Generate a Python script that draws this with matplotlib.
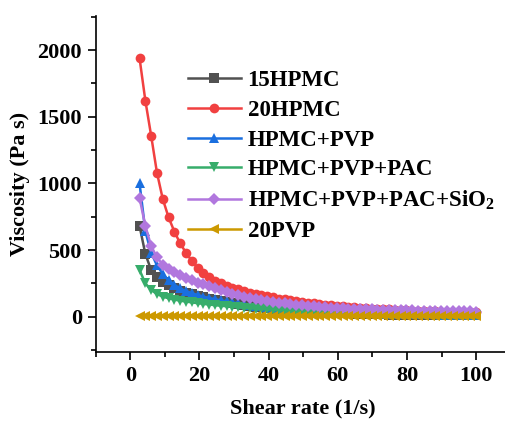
import matplotlib
matplotlib.use("Agg")
import matplotlib.pyplot as plt
from matplotlib.ticker import MultipleLocator

plt.rcParams['font.family'] = ['Liberation Serif', 'DejaVu Serif']
plt.rcParams['font.weight'] = 'bold'
plt.rcParams['mathtext.fontset'] = 'custom'
plt.rcParams['mathtext.rm'] = 'Liberation Serif:bold'
plt.rcParams['mathtext.bf'] = 'Liberation Serif:bold'
plt.rcParams['mathtext.it'] = 'Liberation Serif:bold'
plt.rcParams['mathtext.default'] = 'rm'

shear_rate = [2.68, 4.36, 6.03, 7.71, 9.39, 11.07, 12.75, 14.42, 16.10, 17.78,
              19.46, 21.14, 22.81, 24.49, 26.17, 27.85, 29.53, 31.20, 32.88, 34.56,
              36.24, 37.92, 39.59, 41.27, 42.95, 44.63, 46.31, 47.98, 49.66, 51.34,
              53.02, 54.69, 56.37, 58.05, 59.73, 61.41, 63.08, 64.76, 66.44, 68.12,
              69.80, 71.47, 73.15, 74.83, 76.51, 78.19, 79.86, 81.54, 83.22, 84.90,
              86.58, 88.25, 89.93, 91.61, 93.29, 94.97, 96.64, 98.32, 100.0]

hpmc15 = [680, 470, 350, 300, 263, 235, 212, 195, 180, 167,
          155, 144, 134, 125, 116, 108, 100, 93, 86, 80,
          74, 69, 64, 59, 55, 51, 47, 44, 41, 38,
          35, 33, 31, 29, 27, 25, 24, 22, 21, 20,
          19, 18, 17, 16, 15, 15, 14, 14, 13, 13,
          12, 12, 12, 11, 11, 11, 10, 10, 10]

hpmc20 = [1938, 1620, 1358, 1080, 883, 745, 638, 550, 480, 418,
          368, 325, 295, 270, 250, 232, 217, 204, 192, 181,
          171, 161, 152, 144, 136, 129, 122, 116, 110, 104,
          99, 94, 89, 85, 81, 77, 73, 70, 67, 64,
          61, 58, 56, 54, 52, 50, 48, 46, 44, 43,
          41, 40, 38, 37, 36, 35, 34, 33, 32]

hpmc_pvp = [1000, 640, 480, 385, 320, 272, 238, 212, 192, 176,
            162, 150, 140, 131, 122, 114, 107, 100, 94, 88,
            82, 77, 72, 67, 63, 59, 55, 52, 49, 46,
            43, 41, 38, 36, 34, 32, 30, 29, 27, 26,
            25, 24, 23, 22, 21, 20, 20, 19, 18, 18,
            17, 17, 16, 16, 16, 15, 15, 15, 14]

hpmc_pvp_pac = [350, 250, 200, 170, 150, 138, 128, 120, 113, 107,
                101, 96, 91, 86, 82, 78, 74, 70, 66, 63,
                60, 57, 54, 51, 48, 46, 44, 42, 40, 38,
                36, 34, 33, 31, 30, 29, 27, 26, 25, 24,
                23, 22, 21, 21, 20, 19, 19, 18, 18, 17,
                17, 16, 16, 16, 15, 15, 15, 14, 14]

hpmc_pvp_pac_sio2 = [890, 680, 530, 445, 390, 358, 333, 310, 290, 272,
                     256, 242, 228, 213, 199, 186, 172, 160, 150, 141,
                     133, 125, 118, 111, 105, 99, 94, 89, 85, 81,
                     77, 74, 71, 68, 65, 63, 61, 59, 57, 55,
                     54, 53, 52, 51, 50, 49, 48, 47, 46, 45,
                     44, 43, 42, 41, 41, 40, 39, 39, 38]

pvp20 = [4, 4, 3, 3, 3, 3, 3, 3, 3, 3,
         3, 3, 3, 3, 3, 3, 3, 3, 3, 3,
         2, 2, 2, 2, 2, 2, 2, 2, 2, 2,
         2, 2, 2, 2, 2, 2, 2, 2, 2, 2,
         2, 2, 2, 2, 2, 2, 2, 2, 2, 2,
         2, 2, 2, 2, 2, 2, 2, 2, 2]

labels = ['15HPMC', '20HPMC', 'HPMC+PVP', 'HPMC+PVP+PAC',
          r'HPMC+PVP+PAC+SiO$_2$', '20PVP']
series = [hpmc15, hpmc20, hpmc_pvp, hpmc_pvp_pac, hpmc_pvp_pac_sio2, pvp20]
colors = ['#515151', '#F14040', '#1A6FDF', '#37AD6B', '#B177DE', '#CC9900']
markers = ['s', 'o', '^', 'v', 'D', '<']
msizes = [6.5, 7, 7.5, 7.5, 6.5, 7.5]

W, H = 506, 421
fig = plt.figure(figsize=(W / 100, H / 100), dpi=100)
ax = fig.add_axes([95.7 / W, (H - 352) / H, 415 / W, 336 / H])

for y, lab, c, m, ms in zip(series, labels, colors, markers, msizes):
    ax.plot(shear_rate, y, color=c, marker=m, markersize=ms, linewidth=1.8,
            label=lab, markeredgewidth=0)

ax.set_xlim(-10, 110)
ax.set_ylim(-265, 2255)
ax.xaxis.set_major_locator(MultipleLocator(20))
ax.xaxis.set_minor_locator(MultipleLocator(10))
ax.yaxis.set_major_locator(MultipleLocator(500))
ax.yaxis.set_minor_locator(MultipleLocator(250))
ax.tick_params(axis='both', which='major', direction='out', length=6, width=1.2,
               labelsize=16, pad=4)
ax.tick_params(axis='both', which='minor', direction='out', length=3.5, width=1.2)
for s in ['top', 'right']:
    ax.spines[s].set_visible(False)
for s in ['left', 'bottom']:
    ax.spines[s].set_linewidth(1.2)
for t in ax.get_xticklabels() + ax.get_yticklabels():
    t.set_fontweight('bold')

ax.set_xlabel('Shear rate (1/s)', fontsize=16, fontweight='bold', labelpad=9)
ax.set_ylabel('Viscosity (Pa s)', fontsize=16, fontweight='bold', labelpad=5)

leg = ax.legend(loc='upper left', bbox_to_anchor=(188 / W, 1 - 70 / H),
                bbox_transform=fig.transFigure, frameon=False,
                handlelength=2.3, handletextpad=0.3, borderpad=0, borderaxespad=0,
                labelspacing=0.38, numpoints=1, prop={'weight': 'bold', 'size': 16.5})

fig.savefig('out.png', dpi=100)
